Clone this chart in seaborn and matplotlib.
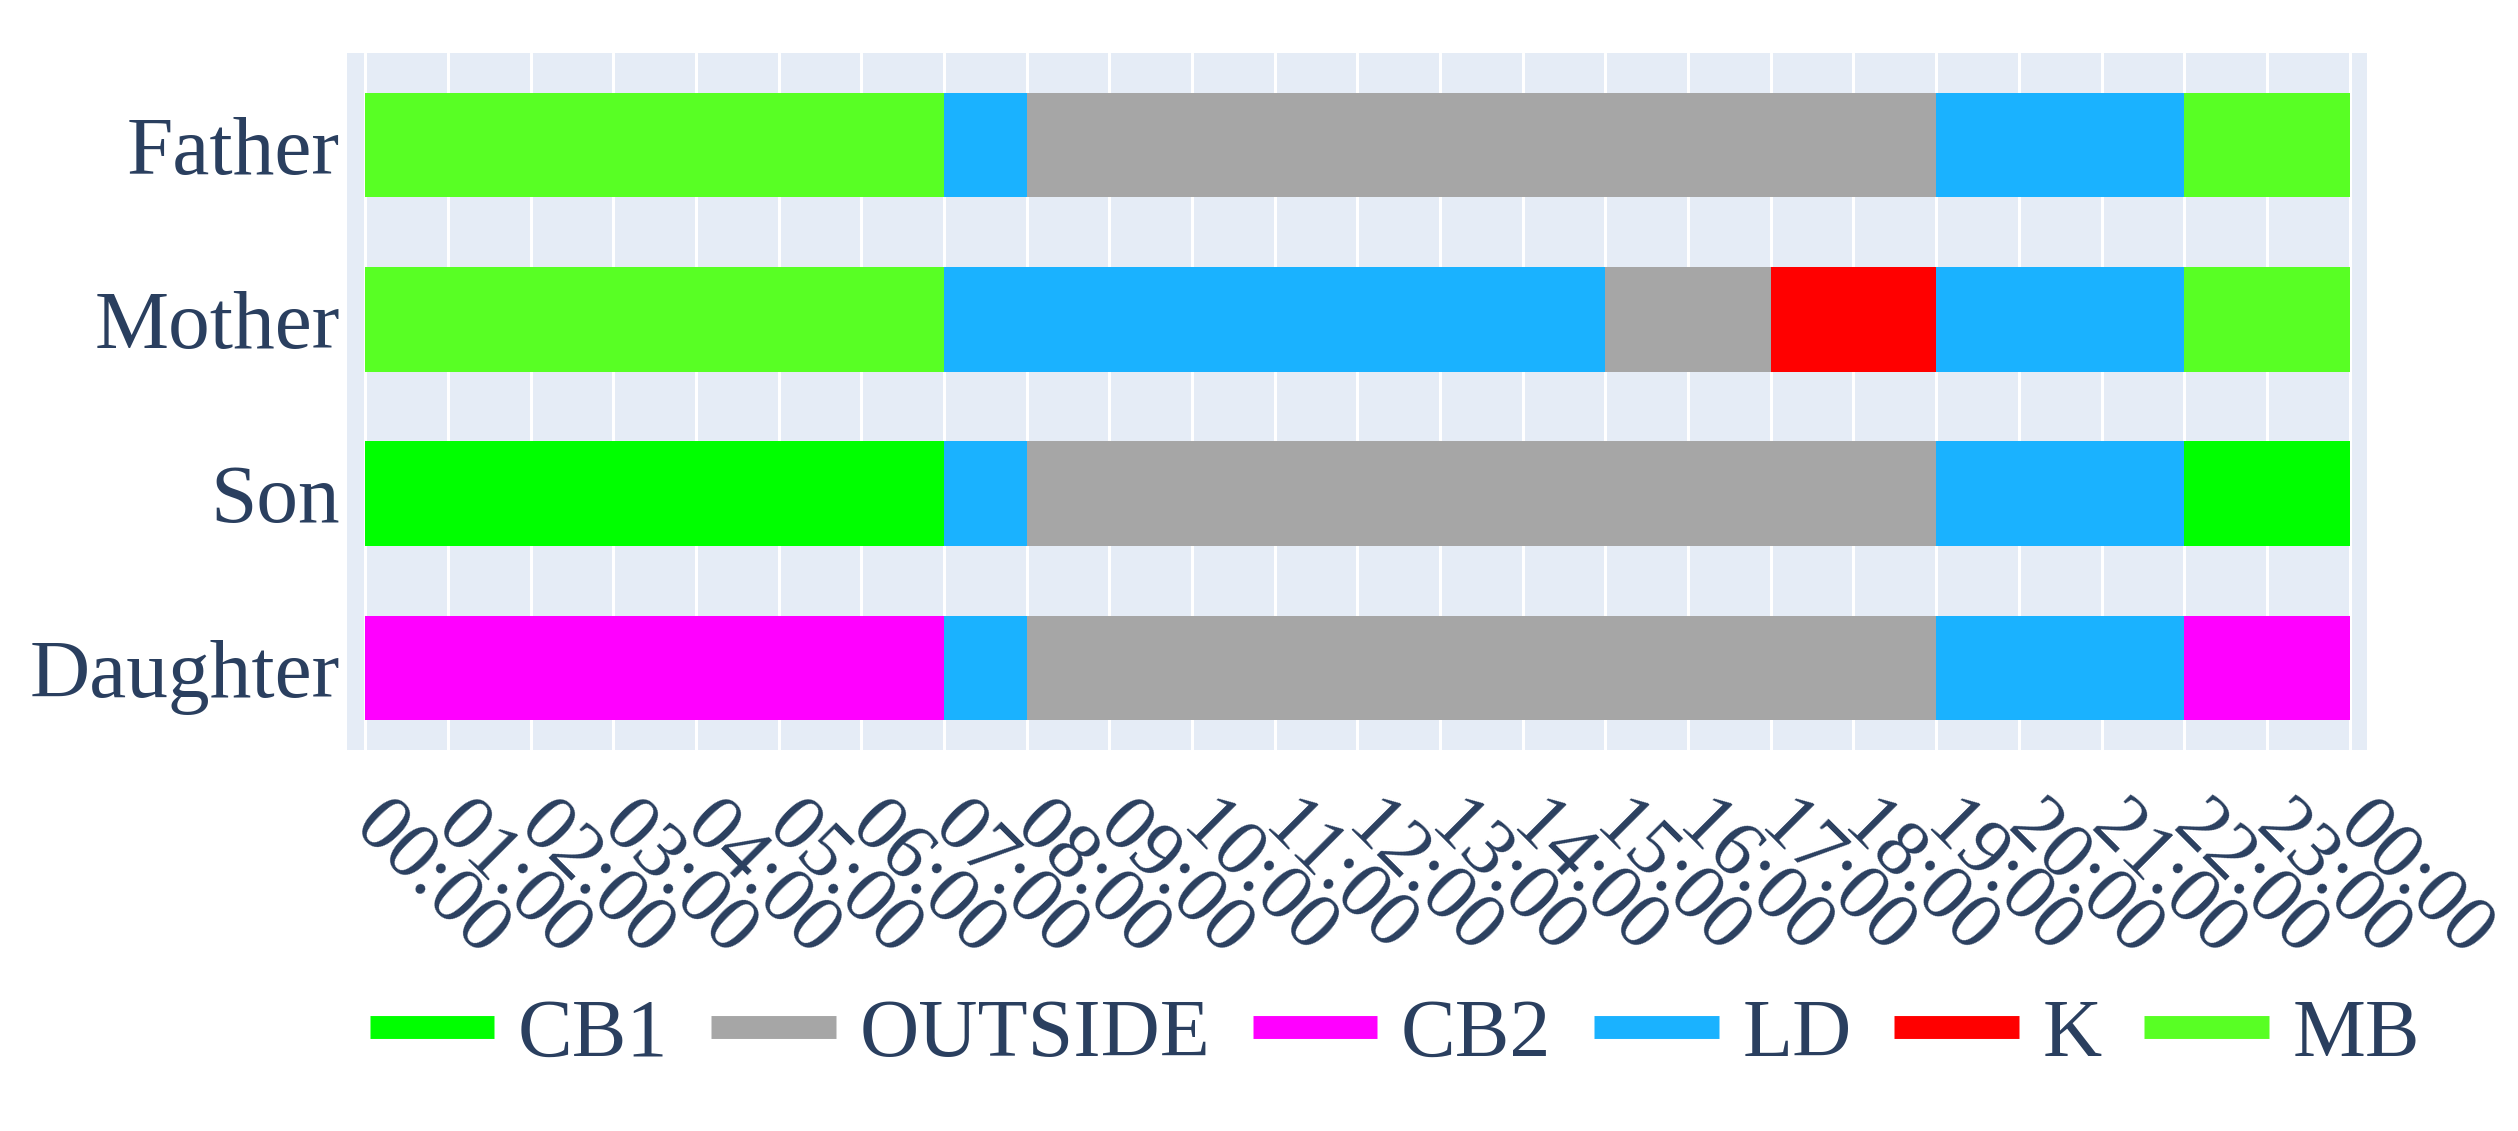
import matplotlib
matplotlib.use("Agg")
import matplotlib.pyplot as plt
from matplotlib.lines import Line2D
import pandas as pd
import seaborn as sns

# data (hours of the day)
persons = ["Father", "Mother", "Son", "Daughter"]

father_tasks = ["MB", "LD", "OUTSIDE", "LD", "MB"]
father_hours = [0, 7, 8, 19, 22, 24]
mother_tasks = ["MB", "LD", "OUTSIDE", "K", "LD", "MB"]
mother_hours = [0, 7, 15, 17, 19, 22, 24]
son_tasks = ["CB1", "LD", "OUTSIDE", "LD", "CB1"]
son_hours = [0, 7, 8, 19, 22, 24]
daughter_tasks = ["CB2", "LD", "OUTSIDE", "LD", "CB2"]
daughter_hours = [0, 7, 8, 19, 22, 24]

legend_tasks = ["CB1", "OUTSIDE", "CB2", "LD", "K", "MB"]
task_colors = ["#00FF00", "#A6A6A6", "#FF00FF", "#1AB2FF", "#FF0000", "#58FF24"]

tick_hours = list(range(25))
tick_labels = ["00:00", "01:00", "02:00", "03:00", "04:00", "05:00", "06:00",
               "07:00", "08:00", "09:00", "10:00", "11:00", "12:00", "13:00",
               "14:00", "15:00", "16:00", "17:00", "18:00", "19:00", "20:00",
               "21:00", "22:00", "23:00", "00:00"]

rows = []
for person, tasks, hours in [("Father", father_tasks, father_hours),
                             ("Mother", mother_tasks, mother_hours),
                             ("Son", son_tasks, son_hours),
                             ("Daughter", daughter_tasks, daughter_hours)]:
    for i, task in enumerate(tasks):
        rows.append({"person": person, "task": task,
                     "start": hours[i], "end": hours[i + 1]})
df = pd.DataFrame(rows)
df["pos"] = df["person"].map({p: i for i, p in enumerate(persons)})
palette = dict(zip(legend_tasks, task_colors))

TEXT = "#2a3f5f"
sns.set_theme(style="darkgrid", rc={
    "axes.facecolor": "#E5ECF6",
    "grid.color": "white",
    "grid.linewidth": 2.2,
    "axes.edgecolor": "#E5ECF6",
})
plt.rcParams["font.family"] = ["Liberation Serif", "DejaVu Serif"]

fig = plt.figure(figsize=(25.18, 11.31), dpi=100)
ax = fig.add_axes([0.1378, 0.337, 0.8022, 0.6163])

for task, grp in df.groupby("task"):
    ax.barh(grp["pos"], grp["end"] - grp["start"], left=grp["start"],
            height=0.6, color=palette[task], edgecolor="none", zorder=3)

ax.set_xlim(-0.22, 24.21)
ax.set_ylim(3.47, -0.53)
ax.set_yticks(range(len(persons)))
ax.set_yticklabels(persons, fontsize=60, color=TEXT)
ax.set_xticks(tick_hours)
ax.set_xticklabels(tick_labels, fontsize=58, color=TEXT, rotation=-45,
                   ha="left", va="center", rotation_mode="anchor")
ax.tick_params(axis="y", length=0, pad=5)
ax.tick_params(axis="x", length=0, pad=47)
ax.grid(axis="y", visible=False)
ax.grid(axis="x", visible=True)
for s in ax.spines.values():
    s.set_visible(False)
ax.set_xlabel("")
ax.set_ylabel("")

handles = [Line2D([0], [0], color=c, lw=16.5, solid_capstyle="butt")
           for c in task_colors]
leg = fig.legend(handles, legend_tasks, loc="center", ncol=6,
                 bbox_to_anchor=(0.554, 0.084), frameon=False, fontsize=59,
                 handlelength=1.52, handletextpad=0.29, columnspacing=0.52,
                 borderpad=0, borderaxespad=0)
for t in leg.get_texts():
    t.set_color(TEXT)

fig.savefig("out.png", dpi=100)
